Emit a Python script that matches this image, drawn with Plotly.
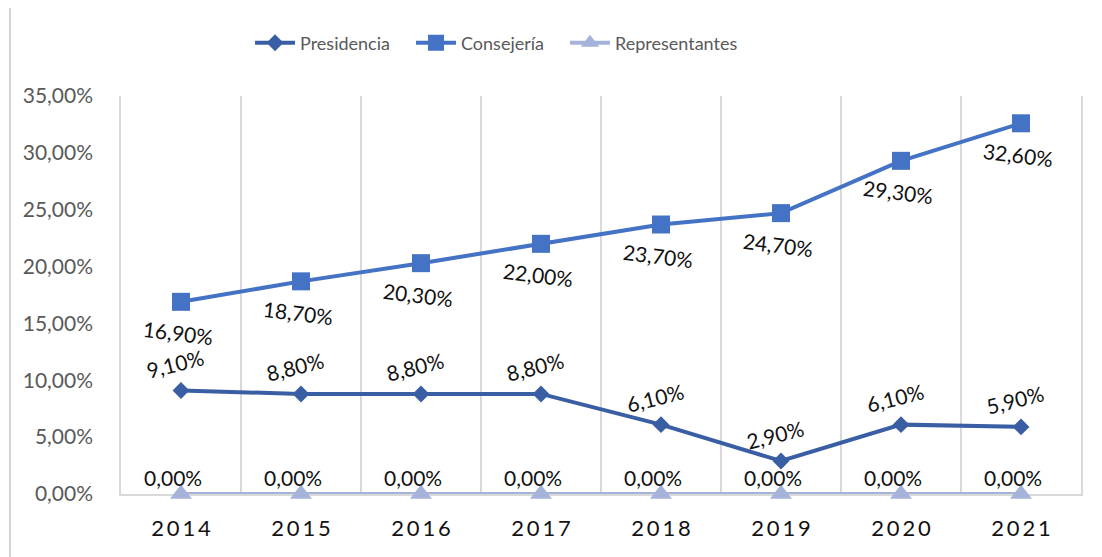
import plotly.graph_objects as go

years = ["2014", "2015", "2016", "2017", "2018", "2019", "2020", "2021"]
presidencia = [0.091, 0.088, 0.088, 0.088, 0.061, 0.029, 0.061, 0.059]
consejeria = [0.169, 0.187, 0.203, 0.220, 0.237, 0.247, 0.293, 0.326]
representantes = [0.0, 0.0, 0.0, 0.0, 0.0, 0.0, 0.0, 0.0]
y_ticks = [0.0, 0.05, 0.10, 0.15, 0.20, 0.25, 0.30, 0.35]

FONT = "Lato"
x = list(range(len(years)))


def pct(v):
    return f"{v * 100:.2f}".replace(".", ",") + "%"


series = [
    dict(name="Presidencia", y=presidencia, color="#3A5EA4", symbol="diamond", size=13,
         dx=-6, dy=-27, angle=-14, legend="legend", lx=0.1344),
    dict(name="Consejería", y=consejeria, color="#4472C4", symbol="square", size=18,
         dx=-3, dy=31, angle=7, legend="legend2", lx=0.3021),
    dict(name="Representantes", y=representantes, color="#A5B3DB", symbol="triangle-up", size=19,
         dx=-8, dy=-17, angle=0, legend="legend3", lx=0.4625),
]

fig = go.Figure()
annotations = []
legends = {}
for s in series:
    fig.add_trace(go.Scatter(
        x=x, y=s["y"], name=s["name"], mode="lines+markers",
        line=dict(color=s["color"], width=4),
        marker=dict(symbol=s["symbol"], size=s["size"], color=s["color"]),
        cliponaxis=False, legend=s["legend"],
    ))
    legends[s["legend"]] = dict(
        orientation="h", x=s["lx"], xanchor="left", y=1.133, yanchor="middle",
        font=dict(family=FONT, size=18, color="#595959"), itemwidth=40,
        bgcolor="rgba(0,0,0,0)",
    )
    for xi, yi in zip(x, s["y"]):
        annotations.append(dict(
            x=xi, y=yi, xref="x", yref="y", text=pct(yi), showarrow=False,
            xshift=s["dx"], yshift=-s["dy"], textangle=s["angle"],
            font=dict(family=FONT, size=21, color="#111111"),
        ))

# chart border (left and top edges visible)
shapes = [
    dict(type="line", xref="paper", yref="paper", x0=-0.1156, x1=-0.1156, y0=1.2286, y1=-0.2, line=dict(color="#D4D4D4", width=2)),
    dict(type="line", xref="paper", yref="paper", x0=-0.1156, x1=1.1, y0=1.2286, y1=1.2286, line=dict(color="#D4D4D4", width=2)),
]

# The page body has an 8px margin, so the figure is sized/placed to compensate.
fig.update_layout(
    width=1094, height=549,
    margin=dict(l=113, r=21, t=88, b=63, autoexpand=False),
    paper_bgcolor="white", plot_bgcolor="white",
    font=dict(family=FONT),
    showlegend=True,
    annotations=annotations,
    shapes=shapes,
    xaxis=dict(
        range=[-0.5, len(years) - 0.5],
        tickvals=x,
        ticktext=["\u2009".join(list(yv)) for yv in years],
        tickfont=dict(family=FONT, size=22, color="#111111"),
        showgrid=False, zeroline=False,
        showline=True, linecolor="#D9D9D9", linewidth=1.5,
        ticks="", ticklabelstandoff=14, layer="below traces",
        minor=dict(tick0=-0.5, dtick=1, showgrid=True, gridcolor="#D9D9D9", gridwidth=1.5),
    ),
    yaxis=dict(
        range=[0, 0.35],
        tickvals=y_ticks,
        ticktext=[pct(v) for v in y_ticks],
        tickfont=dict(family=FONT, size=21, color="#595959"),
        showgrid=False, zeroline=False,
        showline=True, mirror=True, linecolor="#D9D9D9", linewidth=1.5,
        ticks="", ticklabelstandoff=22, layer="below traces",
    ),
    **legends,
)

fig.write_html("out.html")
